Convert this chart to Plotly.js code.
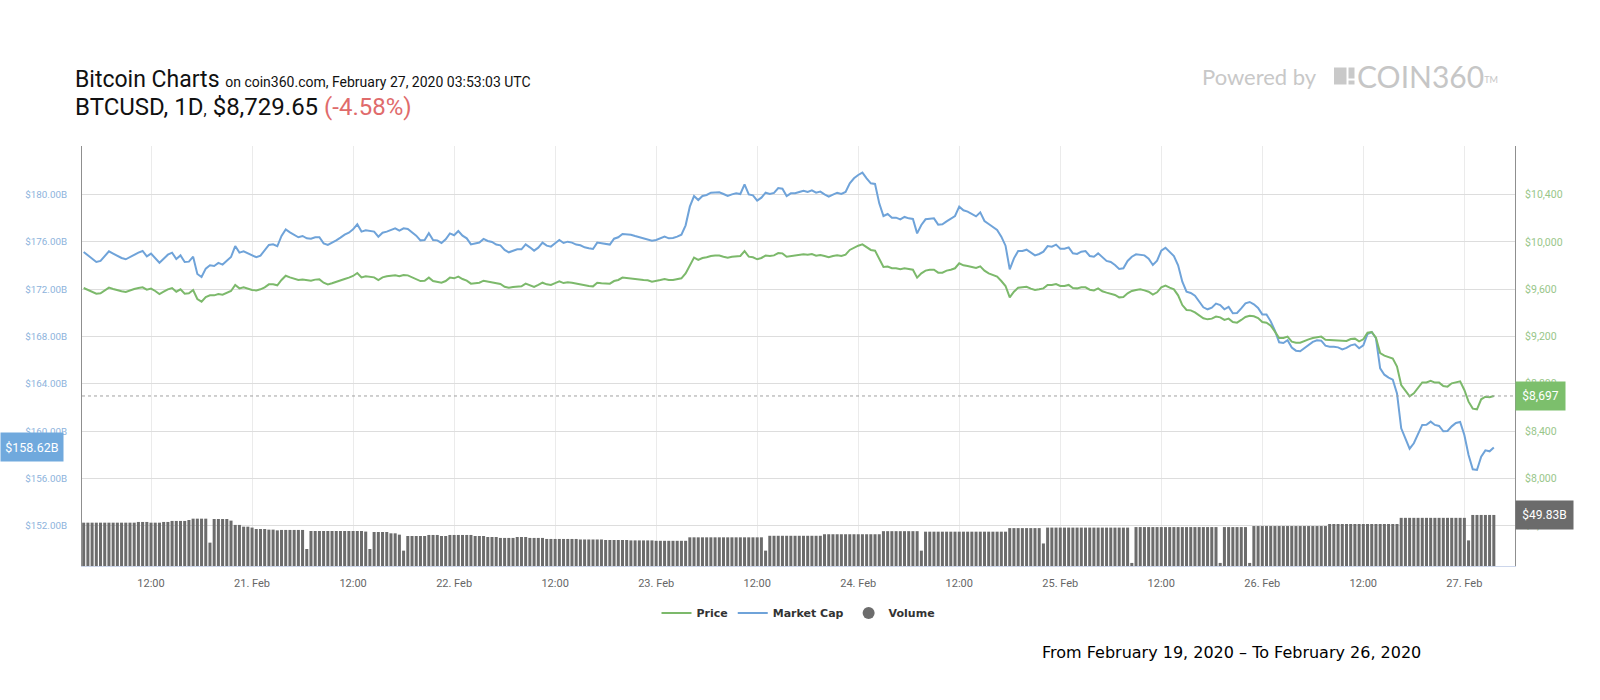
<!DOCTYPE html>
<html>
<head>
<meta charset="utf-8">
<script src="https://cdn.plot.ly/plotly-3.0.1.min.js"></script>
<style>
html,body{margin:0;padding:0;background:#fff;}
#chart{width:1600px;height:700px;}
</style>
</head>
<body>
<div id="chart"></div>
<script>
// ---- Data (30-minute samples, 20 Feb 2020 04:00 -> 27 Feb 2020 03:30) ----
const startTime = '2020-02-20T04:00:00Z';
const stepMinutes = 30;

const price = [
9610,9593,9579,9562,9565,9588,9613,9602,9590,9582,
9576,9590,9602,9610,9616,9596,9605,9585,9559,9579,
9599,9610,9579,9599,9562,9565,9593,9517,9495,9534,
9548,9548,9559,9554,9568,9585,9636,9607,9616,9605,
9593,9590,9599,9616,9641,9641,9633,9678,9714,9700,
9689,9678,9683,9675,9672,9681,9683,9655,9641,9650,
9664,9675,9686,9698,9712,9737,9700,9709,9706,9700,
9678,9700,9709,9712,9717,9709,9720,9717,9703,9686,
9669,9672,9698,9669,9664,9655,9669,9698,
9692,9706,9686,9672,9647,9650,9655,9672,9664,9661,
9650,9644,9621,9613,9619,9624,9624,9647,9633,9619,
9636,9655,9641,9636,9652,9667,9652,9658,9655,9647,
9641,9633,9627,9624,9655,9650,9650,9647,9669,9678,
9698,9695,9695,9689,9683,9678,9675,9664,
9669,9678,9686,9678,9678,9683,9692,9734,9805,9867,
9847,9864,9870,9881,9884,9884,9875,9867,9875,9878,
9881,9923,9875,9870,9853,9864,9884,9881,9886,9906,
9903,9875,9881,9886,9889,9895,9892,9898,9884,9889,
9881,9870,9881,9886,9881,9892,9932,9951,
9968,9979,9954,9932,9926,9853,9788,9791,9777,9777,
9768,9777,9771,9765,9698,9734,9757,9765,9765,9740,
9740,9757,9765,9777,9819,9802,9796,9785,9779,9793,
9757,9734,9723,9706,9669,9627,9531,9579,9613,9616,
9621,9605,9593,9599,9607,9636,9636,9644,
9627,9627,9636,9610,9607,9616,9616,9596,9590,9607,
9582,9571,9559,9551,9531,9534,9565,9585,9593,9599,
9590,9579,9554,9574,9616,9630,9613,9599,9548,9466,
9424,9421,9404,9379,9354,9345,9351,9368,9362,9340,
9351,9323,9317,9340,9365,9376,9371,9356,
9323,9317,9292,9241,9187,9187,9199,9156,9148,9148,
9165,9176,9187,9196,9199,9173,9170,9168,9165,9159,
9162,9179,9182,9159,9176,9232,9238,9190,9060,9038,
9027,9013,8945,8790,8742,8694,8719,8770,8812,8812,
8826,8810,8810,8781,8776,8804,8815,8821,
8748,8649,8590,8584,8669,8691,8686,8697
];

const marketCap = [
175.15,174.86,174.61,174.30,174.39,174.81,175.20,175.01,174.81,174.64,
174.53,174.72,174.95,175.09,175.23,174.78,175.01,174.64,174.24,174.58,
174.92,175.09,174.55,174.86,174.30,174.33,174.75,173.29,173.03,173.74,
174.02,173.96,174.22,174.08,174.39,174.72,175.65,175.09,175.20,175.03,
174.81,174.70,174.84,175.26,175.74,175.79,175.63,176.50,177.06,176.81,
176.58,176.39,176.50,176.30,176.27,176.39,176.39,175.88,175.74,175.91,
176.13,176.36,176.61,176.78,177.06,177.49,176.87,176.98,176.95,176.87,
176.44,176.78,176.87,177.01,177.15,176.95,177.15,177.09,176.81,176.53,
176.13,176.16,176.73,176.16,176.13,175.91,176.22,176.72,
176.56,176.92,176.53,176.30,175.79,175.85,175.94,176.25,176.08,175.99,
175.77,175.71,175.32,175.12,175.26,175.37,175.37,175.79,175.54,175.26,
175.51,175.94,175.68,175.60,175.88,176.16,175.91,176.02,175.94,175.77,
175.71,175.54,175.46,175.40,175.94,175.88,175.85,175.77,176.27,176.39,
176.67,176.67,176.61,176.50,176.39,176.33,176.22,176.10,
176.16,176.30,176.44,176.30,176.33,176.44,176.61,177.40,178.98,179.88,
179.54,179.88,179.97,180.16,180.16,180.19,180.05,179.88,180.02,180.11,
180.05,180.87,180.02,179.94,179.49,179.74,180.16,180.05,180.14,180.56,
180.50,179.88,180.11,180.11,180.22,180.33,180.22,180.36,180.16,180.25,
180.02,179.83,180.00,180.16,180.05,180.22,180.95,181.38,
181.66,181.86,181.38,180.95,180.90,179.26,178.19,178.36,178.05,178.05,
177.91,178.11,177.99,177.94,176.72,177.43,177.91,177.97,177.99,177.46,
177.49,177.74,177.94,178.19,178.98,178.67,178.56,178.33,178.16,178.50,
177.77,177.51,177.23,177.01,176.44,175.68,173.68,174.61,175.23,175.23,
175.34,175.09,174.86,174.98,175.17,175.65,175.60,175.77,
175.43,175.43,175.54,175.03,174.98,175.17,175.23,174.81,174.75,175.03,
174.70,174.39,174.30,174.05,173.71,173.77,174.39,174.75,174.95,174.89,
174.86,174.58,174.05,174.41,175.26,175.51,175.15,174.81,174.02,172.64,
171.79,171.68,171.45,170.95,170.47,170.30,170.44,170.78,170.66,170.30,
170.50,169.96,169.99,170.38,170.81,170.92,170.72,170.41,
169.87,169.87,169.28,168.49,167.51,167.45,167.68,167.06,166.80,166.75,
167.03,167.28,167.54,167.68,167.65,167.22,167.14,167.14,167.08,166.91,
167.03,167.25,167.34,167.00,167.25,168.21,168.38,167.85,165.31,164.77,
164.52,164.35,163.19,160.23,159.39,158.51,158.97,159.75,160.52,160.54,
160.80,160.52,160.43,159.98,160.01,160.40,160.68,160.77,
159.67,157.98,156.77,156.71,157.84,158.37,158.29,158.62
];

const volume = [
42.3,42.3,42.3,42.3,42.3,42.3,42.3,42.3,42.3,42.3,
42.3,42.3,42.3,43.0,43.0,43.0,42.3,42.3,42.3,43.0,
43.0,44.0,44.0,44.0,44.0,44.9,46.2,46.2,46.2,46.2,
22.8,45.9,45.9,45.9,45.9,44.3,40.1,40.1,38.4,38.4,
37.5,36.1,36.1,36.1,35.5,35.5,34.8,35.2,35.2,35.2,
35.2,35.2,35.2,16.6,34.2,34.2,34.2,34.2,34.2,34.2,
34.2,34.2,34.2,34.2,34.2,34.2,34.2,33.6,16.6,33.2,
33.2,33.2,33.2,31.9,31.9,30.6,15.0,29.3,29.3,29.3,
29.3,29.3,30.3,30.3,30.3,29.3,29.3,30.3,30.3,30.3,
30.3,30.3,30.3,29.3,29.3,29.3,28.3,28.3,28.3,27.4,
27.4,27.4,27.4,28.3,28.3,28.3,27.4,27.4,27.4,27.4,
26.4,26.4,26.4,26.4,
26.4,26.4,26.4,26.4,25.9,25.9,25.9,25.9,25.9,25.9,
25.4,25.4,25.4,25.4,25.4,25.4,25.0,25.0,25.0,25.0,
25.0,25.0,
24.6,24.6,24.6,24.6,24.6,24.6,24.6,24.6,
28.0,28.0,28.0,28.0,28.0,28.0,28.0,28.0,28.0,28.0,
28.0,28.0,28.0,28.0,28.0,28.0,28.0,28.0,15.0,
29.5,29.5,29.5,29.5,29.5,29.5,29.5,29.5,29.5,29.5,
29.5,29.5,29.5,31.0,31.0,31.0,31.0,31.0,31.0,31.0,
31.0,31.0,31.0,31.0,31.0,31.0,31.0,
34.0,34.0,34.0,34.0,34.0,34.0,34.0,34.0,34.0,15.0,
33.5,33.5,33.5,33.5,33.5,33.5,33.5,33.5,33.5,33.5,
33.5,33.5,33.5,33.5,33.5,33.5,33.5,33.5,33.5,33.5,
37.0,37.0,37.0,37.0,37.0,37.0,37.0,37.0,22.0,
37.5,37.5,37.5,37.5,37.5,37.5,37.5,37.5,37.5,37.5,
37.5,37.5,37.5,37.5,37.5,37.5,37.5,37.5,37.5,37.5,
3.0,
38.0,38.0,38.0,38.0,38.0,38.0,38.0,38.0,38.0,38.0,
38.0,38.0,38.0,38.0,38.0,38.0,38.0,38.0,38.0,38.0,
3.0,38.0,38.0,38.0,38.0,38.0,38.0,3.0,
39.0,39.0,39.0,39.0,39.0,39.0,39.0,39.0,39.0,39.0,
39.0,39.0,39.0,39.0,39.0,39.0,39.0,39.0,
41.0,41.0,41.0,41.0,41.0,41.0,41.0,41.0,41.0,41.0,
41.0,41.0,41.0,41.0,41.0,41.0,41.0,
47.0,47.0,47.0,47.0,47.0,47.0,47.0,47.0,47.0,47.0,
47.0,47.0,47.0,47.0,47.0,47.0,25.0,
49.83,49.83,49.83,49.83,49.83,49.83
];

const xTickVals = ['2020-02-20 12:00','2020-02-21 00:00','2020-02-21 12:00','2020-02-22 00:00',
  '2020-02-22 12:00','2020-02-23 00:00','2020-02-23 12:00','2020-02-24 00:00',
  '2020-02-24 12:00','2020-02-25 00:00','2020-02-25 12:00','2020-02-26 00:00',
  '2020-02-26 12:00','2020-02-27 00:00'];
const xTickText = ['12:00','21. Feb','12:00','22. Feb','12:00','23. Feb','12:00','24. Feb',
  '12:00','25. Feb','12:00','26. Feb','12:00','27. Feb'];
const capTicks = [152,156,160,164,168,172,176,180];
const priceTicks = [7600,8000,8400,8800,9200,9600,10000,10400];

const titleMain = 'Bitcoin Charts';
const titleSub = 'on coin360.com, February 27, 2020 03:53:03 UTC';
const pairLabel = 'BTCUSD, 1D';
const lastClose = '$8,729.65';
const changeLabel = '(-4.58%)';
const rangeNote = 'From February 19, 2020 \u2013 To February 26, 2020';

// ---- build timestamps ----
const t0 = Date.parse(startTime);
function fmt(ms){
  const d = new Date(ms);
  const p = n => String(n).padStart(2,'0');
  return d.getUTCFullYear()+'-'+p(d.getUTCMonth()+1)+'-'+p(d.getUTCDate())+' '+p(d.getUTCHours())+':'+p(d.getUTCMinutes());
}
const times = price.map((_, i) => fmt(t0 + i*stepMinutes*60000));

// ---- geometry helpers (page pixels -> paper) ----
const L = 82, R = 1515, T = 146, B = 566;
const px = x => (x - L) / (R - L);
const py = y => (B - y) / (B - T);

const GREEN = '#7cb96b', BLUE = '#6fa3d9', GREY = '#6c6c6c';

const lastCap = marketCap[marketCap.length-1];
const lastPrice = price[price.length-1];
const lastVol = volume[volume.length-1];

const traces = [
  {type:'bar', x:times, y:volume, yaxis:'y3', name:'Volume', showlegend:false,
   marker:{color:GREY, line:{width:0}}, hoverinfo:'skip'},
  {type:'scatter', mode:'lines', x:times, y:marketCap, yaxis:'y', name:'Market Cap',
   line:{color:BLUE, width:2}, legendrank:2},
  {type:'scatter', mode:'lines', x:times, y:price, yaxis:'y2', name:'Price',
   line:{color:GREEN, width:2}, legendrank:1},
  {type:'scatter', mode:'markers', x:[null], y:[null], yaxis:'y3', name:'Volume',
   marker:{color:GREY, size:12, symbol:'circle'}, legendrank:3}
];

const layout = {
  width:1600, height:700,
  margin:{l:L, r:1600-R, t:T, b:700-B, pad:0},
  paper_bgcolor:'#ffffff', plot_bgcolor:'#ffffff',
  bargap:0.28,
  showlegend:true,
  legend:{orientation:'h', x:0.5, xanchor:'center', y:py(613), yanchor:'middle',
    font:{family:'DejaVu Sans, sans-serif', size:11, color:'#333333', weight:'bold'},
    itemwidth:30, bgcolor:'rgba(0,0,0,0)'},
  xaxis:{type:'date', range:['2020-02-20 03:48','2020-02-27 06:01'],
    tickmode:'array', tickvals:xTickVals, ticktext:xTickText,
    showgrid:true, gridcolor:'#ebebeb', gridwidth:1,
    showline:true, linecolor:'#ccd6eb', zeroline:false, ticks:'',
    ticklabelstandoff:7,
    tickfont:{family:'Roboto, sans-serif', size:11, color:'#666666'}},
  yaxis:{range:[148.59,184.11], tickmode:'array', tickvals:capTicks,
    ticktext:capTicks.map(v => '$'+v.toFixed(2)+'B'),
    showgrid:true, gridcolor:'#dddddd', zeroline:false,
    showline:true, linecolor:'#8f8f8f', ticks:'', ticklabelstandoff:12,
    tickfont:{family:'Roboto, sans-serif', size:9.8, color:'#8db3dc'}},
  yaxis2:{range:[7259.2,10811], overlaying:'y', side:'right', tickmode:'array',
    tickvals:priceTicks, ticktext:priceTicks.map(v => '$'+v.toLocaleString('en-US')),
    showgrid:false, zeroline:false, showline:true, linecolor:'#8f8f8f', ticks:'',
    ticklabelstandoff:7,
    tickfont:{family:'Roboto, sans-serif', size:10.5, color:'#98c68a'}},
  yaxis3:{range:[0,410], overlaying:'y', visible:false, showgrid:false, zeroline:false},
  shapes:[
    {type:'line', xref:'paper', x0:0, x1:1, yref:'y2', y0:lastPrice, y1:lastPrice,
     line:{color:'#a0a0a0', width:1, dash:'dot'}},
    // COIN360 logo block
    {type:'rect', xref:'paper', yref:'paper', x0:px(1334), x1:px(1346.5), y0:py(84.5), y1:py(67.5),
     fillcolor:'#c9c9c9', line:{width:0}},
    {type:'rect', xref:'paper', yref:'paper', x0:px(1348.5), x1:px(1354.5), y0:py(78.5), y1:py(67.5),
     fillcolor:'#c9c9c9', line:{width:0}},
    {type:'rect', xref:'paper', yref:'paper', x0:px(1348.5), x1:px(1354.5), y0:py(84.5), y1:py(80.5),
     fillcolor:'#c9c9c9', line:{width:0}}
  ],
  annotations:[
    {xref:'paper', yref:'paper', x:px(73), y:py(80), xanchor:'left', yanchor:'middle', showarrow:false,
     text: titleMain + ' <span style="font-size:14px">' + titleSub + '</span>',
     font:{family:'Roboto, sans-serif', size:23, color:'#111111'}},
    {xref:'paper', yref:'paper', x:px(73), y:py(107), xanchor:'left', yanchor:'middle', showarrow:false,
     text: pairLabel + '<span style="font-size:16px">,</span> ' + lastClose + ' <span style="color:#e06b6b">' + changeLabel + '</span>',
     font:{family:'Roboto, sans-serif', size:24, color:'#111111'}},
    {xref:'paper', yref:'paper', x:px(1200), y:py(77), xanchor:'left', yanchor:'middle', showarrow:false,
     text:'Powered by', font:{family:'Lato, sans-serif', size:22, color:'#c8c8c8'}},
    {xref:'paper', yref:'paper', x:px(1355), y:py(76), xanchor:'left', yanchor:'middle', showarrow:false,
     text:'COIN360<span style="font-size:13px"><sup>TM</sup></span>', font:{family:'Lato, sans-serif', size:30, color:'#c6c6c6'}},
    {xref:'paper', yref:'paper', x:px(1040), y:py(652), xanchor:'left', yanchor:'middle', showarrow:false,
     text:rangeNote, font:{family:'DejaVu Sans, sans-serif', size:16, color:'#000000'}},
    {xref:'paper', yref:'y', x:px(0), y:lastCap, xanchor:'left', yanchor:'middle', showarrow:false,
     text:'$'+lastCap.toFixed(2)+'B', width:62, height:28, borderpad:0, bgcolor:'#70a9dd',
     font:{family:'Roboto, sans-serif', size:12.5, color:'#ffffff'}},
    {xref:'paper', yref:'y2', x:1, y:lastPrice, xanchor:'left', yanchor:'middle', showarrow:false,
     text:'$'+lastPrice.toLocaleString('en-US'), width:49, height:28, borderpad:0, bgcolor:'#7cbf6c',
     font:{family:'Roboto, sans-serif', size:12, color:'#ffffff'}},
    {xref:'paper', yref:'y3', x:1, y:lastVol, xanchor:'left', yanchor:'middle', showarrow:false,
     text:'$'+lastVol.toFixed(2)+'B', width:57, height:28, borderpad:0, bgcolor:'#6b6b6b',
     font:{family:'Roboto, sans-serif', size:12, color:'#ffffff'}}
  ]
};

Plotly.newPlot('chart', traces, layout, {staticPlot:true, displayModeBar:false});
</script>
</body>
</html>
